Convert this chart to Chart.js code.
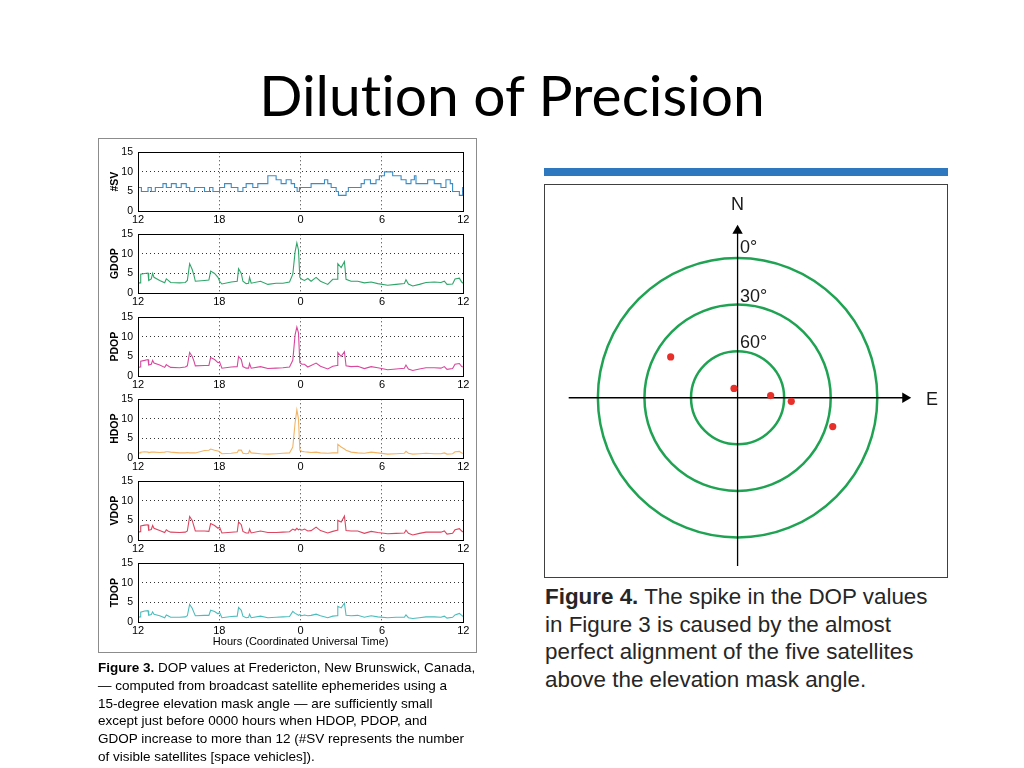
<!DOCTYPE html>
<html>
<head>
<meta charset="utf-8">
<script src="https://cdn.jsdelivr.net/npm/chart.js@4.4.1/dist/chart.umd.min.js"></script>
<style>
  body { margin: 0; width: 1024px; height: 768px; background: #fff; position: relative; overflow: hidden;
         font-family: "Liberation Sans", Arial, sans-serif; color: #000; }
  #title { position: absolute; left: 0; width: 1024px; top: 66px; text-align: center;
           font-family: Lato, "Open Sans", sans-serif; line-height: 1; white-space: nowrap;
           font-variant-ligatures: none; font-feature-settings: "liga" 0; }
  #fig3box { position: absolute; left: 98px; top: 138px; width: 379px; height: 515px;
             border: 1px solid #8c8c8c; box-sizing: border-box; }
  .panel { position: absolute; left: 99px; }
  #cap3 { position: absolute; left: 98px; top: 659px; font-size: 13.5px; line-height: 17.8px; white-space: nowrap; }
  #bluebar { position: absolute; left: 544px; top: 168px; width: 404px; height: 8px; background: #2e78bf; }
  #fig4box { position: absolute; left: 544px; top: 184px; width: 404px; height: 394px;
             border: 1.5px solid #404040; box-sizing: border-box; }
  #polar { position: absolute; left: 545px; top: 185px; }
  .lbl { position: absolute; font-size: 18px; line-height: 18px; color: #1a1a1a; white-space: nowrap; }
  #cap4 { position: absolute; left: 545px; top: 583px; font-size: 22.4px; line-height: 27.6px; color: #262626; white-space: nowrap; }
</style>
</head>
<body>
<div id="title">Dilution of Precision</div>

<div id="fig3box"></div>
<canvas id="p0" class="panel"></canvas>
<canvas id="p1" class="panel"></canvas>
<canvas id="p2" class="panel"></canvas>
<canvas id="p3" class="panel"></canvas>
<canvas id="p4" class="panel"></canvas>
<canvas id="p5" class="panel"></canvas>

<div id="cap3"><b>Figure 3.</b> DOP values at Fredericton, New Brunswick, Canada,<br>— computed from broadcast satellite ephemerides using a<br>15-degree elevation mask angle — are sufficiently small<br>except just before 0000 hours when HDOP, PDOP, and<br>GDOP increase to more than 12 (#SV represents the number<br>of visible satellites [space vehicles]).</div>

<div id="bluebar"></div>
<div id="fig4box"></div>
<canvas id="polar"></canvas>
<div class="lbl" style="left:731px;top:195px">N</div>
<div class="lbl" style="left:926px;top:390px">E</div>
<div class="lbl" style="left:740px;top:238px">0°</div>
<div class="lbl" style="left:740px;top:287px">30°</div>
<div class="lbl" style="left:740px;top:333px">60°</div>

<div id="cap4"><b>Figure 4.</b> The spike in the DOP values<br>in Figure 3 is caused by the almost<br>perfect alignment of the five satellites<br>above the elevation mask angle.</div>

<script>
(function () {
  'use strict';

  // ── data: hours after 12 UTC ──────────────────────────────────────────────
  var svHours = [0, 0.25, 0.74, 0.98, 1.28, 1.84, 2.09, 2.46, 2.82, 3.19, 3.56, 3.81, 4.18, 4.91, 5.28, 5.53,
    6.02, 6.39, 6.88, 7.37, 7.74, 7.98, 8.47, 8.84, 9.58, 10.19, 10.56, 10.93, 11.30, 11.55, 11.74, 11.91,
    12.77, 13.76, 14.00, 14.25, 14.62, 14.79, 15.35, 15.52, 16.46, 16.70, 17.15, 17.56, 17.81, 18.18,
    18.79, 19.41, 19.78, 20.14, 20.39, 20.51, 21.37, 21.86, 22.35, 22.72, 23.04, 23.21, 23.71, 23.95, 24];
  var svCount = [6, 5, 6, 5, 6, 7, 6, 7, 6, 7, 6, 5, 6, 5, 6, 5,
    6, 7, 6, 5, 6, 7, 6, 7, 9, 8, 7, 8, 7, 6, 5, 6,
    7, 8, 7, 6, 5, 4, 5, 6, 7, 8, 7, 8, 9, 10,
    9, 8, 7, 8, 9, 7, 8, 7, 6, 8, 7, 5, 4, 6, 6];

  var dopHours = [0, 0.15, 0.20, 0.49, 0.74, 0.79, 0.98, 1.08, 1.18, 1.60, 1.97, 2.09, 2.21, 2.41, 3.07, 3.49,
    3.64, 3.81, 4.00, 4.13, 4.23, 4.91, 5.23, 5.36, 5.65, 5.90, 6.02, 6.19, 6.88, 7.32, 7.42, 7.62, 7.74,
    7.98, 8.16, 8.23, 8.35, 9.04, 9.58, 10.19, 10.69, 11.18, 11.42, 11.59, 11.72, 11.84, 11.94, 12.09,
    12.28, 12.53, 12.77, 13.14, 13.46, 14.00, 14.37, 14.69, 14.74, 14.99, 15.23, 15.35, 15.72, 16.21,
    16.70, 17.20, 17.69, 18.42, 19.04, 19.65, 19.77, 19.95, 20.27, 20.76, 21.25, 21.86, 22.35, 22.60,
    22.80, 23.21, 23.39, 23.71, 23.88, 24.0];

  var gdop = [2.5, 2.6, 4.8, 5.0, 5.1, 3.2, 3.6, 5.0, 4.0, 3.2,
    2.6, 3.6, 3.3, 2.7, 2.6, 2.7, 3.2, 7.5, 6.0, 4.5,
    3.0, 3.2, 3.3, 5.6, 5.0, 4.0, 3.0, 2.3, 2.8, 3.0,
    6.2, 5.0, 3.0, 2.4, 2.5, 4.0, 2.5, 3.0, 2.2, 2.5,
    2.5, 2.8, 4.8, 10.5, 12.8, 11.0, 4.0, 3.5, 3.2, 3.7,
    3.0, 4.0, 3.0, 2.2, 3.5, 3.5, 7.5, 6.5, 8.0, 3.5,
    3.0, 3.0, 2.6, 2.8, 2.4, 2.0, 2.2, 2.4, 3.4, 2.3,
    1.8, 2.2, 2.7, 2.8, 2.7, 3.0, 2.2, 2.3, 3.6, 3.8,
    2.8, 2.5];
  var pdop = [2.2, 2.3, 3.8, 4.0, 4.2, 2.8, 3.0, 4.0, 3.3, 2.8,
    2.2, 2.9, 2.6, 2.2, 2.1, 2.3, 2.6, 6.0, 5.0, 3.8,
    2.6, 2.7, 2.7, 4.7, 4.2, 3.4, 3.6, 2.0, 2.3, 2.4,
    5.0, 4.2, 2.4, 2.0, 2.0, 3.2, 2.0, 2.4, 1.9, 2.0,
    2.1, 2.3, 4.0, 10.5, 12.5, 11.0, 3.4, 3.0, 3.0, 2.3,
    2.7, 3.3, 2.5, 1.8, 2.5, 2.7, 6.0, 5.0, 6.2, 2.6,
    2.4, 2.5, 1.9, 2.4, 2.1, 1.6, 1.8, 2.0, 2.8, 1.8,
    1.4, 1.8, 2.1, 2.1, 2.0, 2.4, 1.7, 1.9, 3.0, 3.2,
    2.4, 2.3];
  var hdop = [1.2, 1.3, 1.5, 1.6, 1.5, 1.4, 1.5, 1.5, 1.5, 1.4,
    1.5, 1.6, 1.6, 1.5, 1.3, 1.3, 1.4, 1.3, 1.3, 1.3,
    1.3, 1.9, 2.0, 2.3, 2.0, 1.8, 1.6, 1.1, 1.2, 1.4,
    2.0, 2.0, 1.2, 1.1, 1.2, 1.9, 1.3, 1.1, 1.0, 1.1,
    1.2, 1.3, 2.8, 9.0, 12.3, 10.0, 2.0, 1.7, 1.6, 1.5,
    1.4, 1.5, 1.3, 1.2, 1.3, 1.3, 3.5, 2.8, 2.3, 2.0,
    1.5, 1.3, 1.2, 1.5, 1.3, 1.0, 1.1, 1.2, 1.7, 1.2,
    1.0, 1.1, 1.2, 1.1, 1.1, 1.3, 1.0, 1.1, 1.6, 1.7,
    1.3, 1.2];
  var vdop = [2.0, 2.1, 3.6, 3.8, 3.9, 2.5, 2.7, 3.7, 3.0, 2.4,
    1.9, 2.6, 2.3, 2.0, 1.9, 2.0, 2.3, 6.0, 5.0, 3.5,
    2.3, 2.3, 2.2, 4.2, 3.7, 3.0, 3.3, 1.8, 2.0, 2.1,
    4.6, 3.9, 2.2, 1.8, 1.8, 2.8, 1.8, 2.3, 1.9, 1.9,
    2.0, 2.1, 2.8, 2.5, 3.0, 2.6, 2.8, 2.5, 2.8, 2.3,
    2.4, 3.3, 2.4, 1.8, 2.2, 2.5, 5.0, 4.6, 6.1, 2.4,
    2.3, 2.3, 1.7, 2.2, 1.9, 1.6, 1.7, 1.8, 2.5, 1.7,
    1.3, 1.7, 2.0, 2.0, 2.0, 2.3, 1.5, 1.7, 2.6, 2.9,
    2.3, 2.0];
  var tdop = [1.2, 1.3, 2.5, 2.8, 2.9, 1.7, 1.9, 2.6, 2.0, 1.6,
    1.1, 1.8, 1.6, 1.2, 1.2, 1.3, 1.6, 4.5, 3.5, 2.4,
    1.6, 1.7, 1.7, 3.0, 2.7, 2.1, 2.4, 1.1, 1.4, 1.5,
    3.7, 3.0, 1.5, 1.1, 1.2, 2.0, 1.1, 1.5, 1.1, 1.2,
    1.3, 1.4, 2.7, 2.2, 2.0, 1.7, 1.9, 1.6, 1.8, 1.6,
    1.7, 2.0, 1.6, 1.1, 1.5, 1.6, 4.0, 3.6, 4.8, 1.7,
    1.6, 1.7, 1.2, 1.6, 1.3, 1.1, 1.2, 1.2, 1.8, 1.1,
    0.9, 1.1, 1.3, 1.3, 1.2, 1.5, 1.0, 1.2, 1.8, 2.2,
    1.7, 1.4];

  var panelLabels = ['#SV', 'GDOP', 'PDOP', 'HDOP', 'VDOP', 'TDOP'];
  var panelColors = ['#3a8cc6', '#2fa56a', '#d9489e', '#f2b465', '#dc4560', '#4cbdbd'];
  var yTicks = [0, 5, 10, 15];
  var xTickLabels = ['12', '18', '0', '6', '12'];

  // sky plot: east / north offsets in degrees of zenith angle
  var satEast  = [-43.1, -2.3, 21.3, 34.6, 61.3];
  var satNorth = [26.3, 6.0, 1.4, -2.3, -18.6];
  var ringZenith = [90, 60, 30];
  var eastAxis  = [-108.8, 108.0];
  var northAxis = [-108.4, 107.7];

  // ── layout ───────────────────────────────────────────────────────────────
  var PANEL_TOPS = [149, 231, 313.5, 395.5, 477.5, 560];
  var PLOT_H = 62;
  var PAD_TOP = 8;

  function fitTitle() {
    var el = document.getElementById('title');
    var c = document.createElement('canvas').getContext('2d');
    c.font = '100px Lato';
    var w = c.measureText(el.textContent).width;
    el.style.fontSize = (100 * 508 / w).toFixed(1) + 'px';
  }

  var framePlugin = {
    id: 'frame',
    afterDatasetsDraw: function (chart) {
      var a = chart.chartArea, ctx = chart.ctx;
      ctx.save();
      ctx.strokeStyle = '#000';
      ctx.lineWidth = 1;
      ctx.strokeRect(Math.round(a.left) + 0.5, Math.round(a.top) + 0.5,
        Math.round(a.right - a.left), Math.round(a.bottom - a.top));
      ctx.restore();
    }
  };

  function gridColor(ends) {
    return function (c) {
      if (!c.tick) return 'rgba(0,0,0,0)';
      return ends.indexOf(c.tick.value) >= 0 ? 'rgba(0,0,0,0)' : '#333';
    };
  }

  function buildPanel(i, hours, values) {
    var last = i === panelLabels.length - 1;
    var xH = last ? 30 : 16;
    var canvas = document.getElementById('p' + i);
    canvas.width = 374;
    canvas.height = PAD_TOP + PLOT_H + xH;
    canvas.style.top = (PANEL_TOPS[i] - PAD_TOP) + 'px';
    var pts = hours.map(function (h, k) { return { x: h, y: values[k] }; });
    return new Chart(canvas.getContext('2d'), {
      type: 'line',
      data: { datasets: [{
        data: pts, borderColor: panelColors[i], borderWidth: 1.1, pointRadius: 0,
        stepped: i === 0, tension: 0, fill: false
      }] },
      options: {
        animation: false, responsive: false,
        layout: { padding: { left: 0, right: 9.7, top: PAD_TOP, bottom: 0 } },
        plugins: { legend: { display: false }, tooltip: { enabled: false } },
        scales: {
          x: {
            type: 'linear', min: 0, max: 24,
            afterFit: function (s) { s.height = xH; },
            ticks: {
              stepSize: 6, autoSkip: false, maxRotation: 0, padding: 2, color: '#000',
              font: { family: 'Liberation Sans', size: 11 },
              callback: function (v) { return xTickLabels[Math.round(v / 6)]; }
            },
            grid: { color: gridColor([0, 24]), lineWidth: 1, drawTicks: false },
            border: { display: false, dash: [1, 3] },
            title: {
              display: last, text: 'Hours (Coordinated Universal Time)', color: '#000',
              font: { family: 'Liberation Sans', size: 11 }, padding: { top: 0, bottom: 3 }
            }
          },
          y: {
            min: 0, max: 15,
            afterFit: function (s) { s.width = 39; },
            afterBuildTicks: function (s) { s.ticks = yTicks.map(function (v) { return { value: v }; }); },
            ticks: { padding: 5, color: '#000', font: { family: 'Liberation Sans', size: 10.5 } },
            grid: { color: gridColor([0, 15]), lineWidth: 1, drawTicks: false },
            border: { display: false, dash: [1, 3] },
            title: {
              display: true, text: panelLabels[i], color: '#000',
              font: { family: 'Liberation Sans', size: 10.5, weight: 'bold' }, padding: { top: 10, bottom: 0 }
            }
          }
        }
      },
      plugins: [framePlugin]
    });
  }

  var ringPlugin = {
    id: 'rings',
    beforeDatasetsDraw: function (chart) {
      var ctx = chart.ctx, x = chart.scales.x, y = chart.scales.y;
      var cx = x.getPixelForValue(0), cy = y.getPixelForValue(0);
      ctx.save();
      ctx.strokeStyle = '#1fa352';
      ctx.lineWidth = 2.5;
      ringZenith.forEach(function (z) {
        var r = x.getPixelForValue(z) - cx;
        ctx.beginPath();
        ctx.arc(cx, cy, r, 0, Math.PI * 2);
        ctx.stroke();
      });
      ctx.restore();
    }
  };

  function buildPolar() {
    var canvas = document.getElementById('polar');
    canvas.width = 402;
    canvas.height = 392;
    var sats = satEast.map(function (e, k) { return { x: e, y: satNorth[k] }; });
    var axisStyle = {
      showLine: true, borderColor: '#000', borderWidth: 1.3, backgroundColor: '#000',
      pointStyle: 'triangle', pointRadius: [0, 6], pointBorderWidth: 0
    };
    return new Chart(canvas.getContext('2d'), {
      type: 'scatter',
      data: { datasets: [
        { data: sats, pointRadius: 3.6, backgroundColor: '#e8302a', pointBorderWidth: 0 },
        Object.assign({ data: eastAxis.map(function (v) { return { x: v, y: 0 }; }), rotation: 90 }, axisStyle),
        Object.assign({ data: northAxis.map(function (v) { return { x: 0, y: v }; }), rotation: 0 }, axisStyle)
      ] },
      options: {
        animation: false, responsive: false,
        layout: { padding: 0 },
        plugins: { legend: { display: false }, tooltip: { enabled: false } },
        scales: {
          x: { type: 'linear', min: -120.2, max: 131.05, display: false },
          y: { type: 'linear', min: -111.7, max: 133.3, display: false }
        }
      },
      plugins: [ringPlugin]
    });
  }

  fitTitle();
  buildPanel(0, svHours, svCount);
  buildPanel(1, dopHours, gdop);
  buildPanel(2, dopHours, pdop);
  buildPanel(3, dopHours, hdop);
  buildPanel(4, dopHours, vdop);
  buildPanel(5, dopHours, tdop);
  buildPolar();
}());
</script>
</body>
</html>
